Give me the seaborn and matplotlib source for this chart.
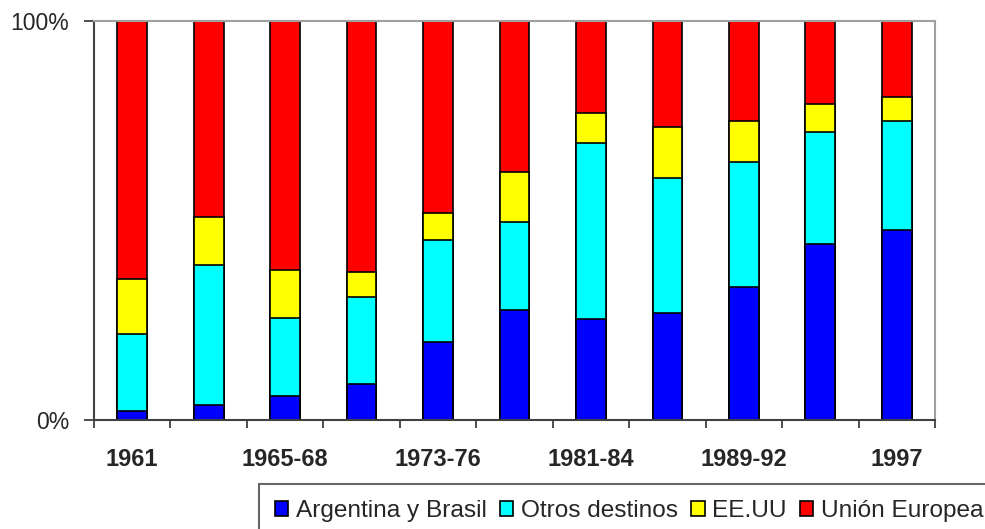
import numpy as np
import matplotlib
matplotlib.use("Agg")
import matplotlib.pyplot as plt
import seaborn as sns
from matplotlib.patches import Patch

periods = ['1961', '1962-64', '1965-68', '1969-72', '1973-76', '1977-80',
           '1981-84', '1985-88', '1989-92', '1993-96', '1997']
shown_labels = ['1961', '', '1965-68', '', '1973-76', '', '1981-84', '', '1989-92', '', '1997']

# share of exports by destination (%)
argentina_brasil = [2.2, 3.8, 6.1, 9.0, 19.5, 27.5, 25.2, 26.9, 33.3, 44.2, 47.7]
otros_destinos = [19.4, 35.0, 19.5, 21.8, 25.7, 22.1, 44.1, 33.8, 31.4, 27.9, 27.3]
eeuu = [13.8, 12.1, 12.1, 6.3, 6.8, 12.6, 7.6, 12.7, 10.3, 7.0, 5.9]
union_europea = [64.6, 49.1, 62.3, 62.9, 48.0, 37.8, 23.1, 26.6, 25.0, 20.9, 19.1]

series = ['Argentina y Brasil', 'Otros destinos', 'EE.UU', 'Unión Europea']
colors = ['#0000FF', '#00FFFF', '#FFFF00', '#FF0000']

sns.set_style("white")
plt.rcParams['font.family'] = ['Liberation Sans', 'DejaVu Sans']

fig = plt.figure(figsize=(9.85, 5.29), dpi=100)
ax = fig.add_axes([94/985, 1 - 420/529, (935 - 94)/985, (420 - 21)/529])

stack = np.cumsum(np.array([argentina_brasil, otros_destinos, eeuu, union_europea]), axis=0)

# draw tallest first so lower segments sit on top
for i in range(3, -1, -1):
    sns.barplot(x=periods, y=stack[i], order=periods, color=colors[i], saturation=1,
                edgecolor='black', linewidth=1.2, width=0.39, ax=ax)

ax.set_xlim(-0.5, 10.5)
ax.set_ylim(0, 100)
ax.set_xlabel('')
ax.set_ylabel('')

ax.set_yticks([0, 100])
ax.set_yticklabels(['0%', '100%'], fontsize=16.5)
ax.tick_params(axis='y', length=7, width=1.3, pad=11, color='#404040', left=True)

ax.set_xticks(range(len(periods)))
ax.set_xticklabels(shown_labels, fontsize=17, fontweight='bold')
ax.tick_params(axis='x', length=0, pad=20)
ax.set_xticks(np.arange(-0.5, 11, 1), minor=True)
ax.tick_params(axis='x', which='minor', length=6, width=1.3, direction='out',
               color='#404040', bottom=True)

for s in ['left', 'bottom']:
    ax.spines[s].set_color('#404040')
    ax.spines[s].set_linewidth(1.5)
for s in ['top', 'right']:
    ax.spines[s].set_color('#a0a0a0')
    ax.spines[s].set_linewidth(1.5)

handles = [Patch(facecolor=c, edgecolor='black', linewidth=1.2) for c in colors]
leg = fig.legend(handles, series, loc='upper left', bbox_to_anchor=(259/985, 1 - 484/529),
                 ncol=4, fontsize=17.6, frameon=True, fancybox=False, borderaxespad=0,
                 borderpad=0.65, handlelength=0.55, handleheight=0.55, handletextpad=0.3,
                 columnspacing=0.55)
leg.get_frame().set_edgecolor('#404040')
leg.get_frame().set_linewidth(1.5)

fig.savefig('out.png', dpi=100)
